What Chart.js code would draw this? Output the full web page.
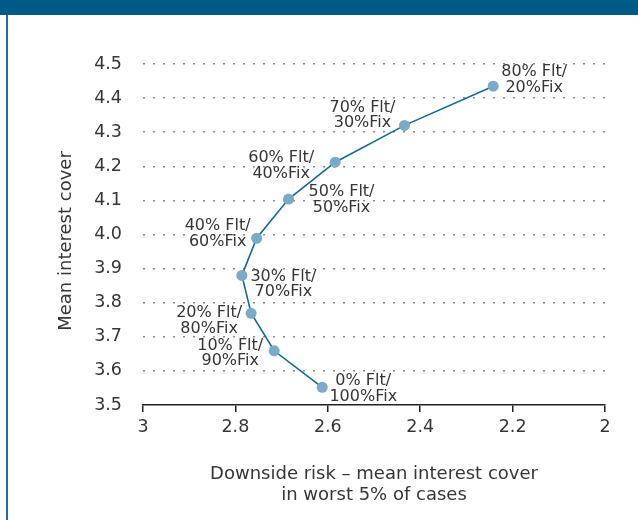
<!DOCTYPE html>
<html>
<head>
<meta charset="utf-8">
<script src="https://cdn.jsdelivr.net/npm/chart.js@4/dist/chart.umd.min.js"></script>
<style>
  html, body { margin: 0; padding: 0; background: #fff; }
  #wrap { position: relative; width: 638px; height: 520px; overflow: hidden; background: #fff; }
  #band { position: absolute; left: 0; top: 0; width: 638px; height: 15px; background: #005a87; }
  #lborder { position: absolute; left: 6px; top: 15px; width: 2px; height: 505px; background: #1f6f9a; }
  canvas { position: absolute; left: 0; top: 0; }
</style>
</head>
<body>
<div id="wrap">
  <canvas id="c" width="638" height="520"></canvas>
  <div id="band"></div>
  <div id="lborder"></div>
</div>
<script>
// ---- data ----
const fltLabels = ['0% Flt/', '10% Flt/', '20% Flt/', '30% Flt/', '40% Flt/', '50% Flt/', '60% Flt/', '70% Flt/', '80% Flt/'];
const fixLabels = ['100%Fix', '90%Fix', '80%Fix', '70%Fix', '60%Fix', '50%Fix', '40%Fix', '30%Fix', '20%Fix'];
const downsideRisk = [2.612, 2.716, 2.766, 2.786, 2.754, 2.685, 2.584, 2.434, 2.242];
const meanCover = [3.552, 3.659, 3.769, 3.880, 3.989, 4.104, 4.212, 4.320, 4.435];
const yTickLabels = ['3.5', '3.6', '3.7', '3.8', '3.9', '4.0', '4.1', '4.2', '4.3', '4.4', '4.5'];
const xTickLabels = ['2', '2.2', '2.4', '2.6', '2.8', '3'];
const yTitle = 'Mean interest cover';
const xTitle = ['Downside risk \u2013 mean interest cover', 'in worst 5% of cases'];

const FONT = '"DejaVu Sans", "Noto Sans", sans-serif';
const TEXT = '#363636';

// label placement relative to each point: [dx, dy of first line]
const labelOffsets = [[41, -6], [-44, -5], [-42, 0], [41.5, 1], [-39, -12], [53, -7], [-54, -4], [-42, -18], [41, -14]];

const labelPlugin = {
  id: 'mixLabels',
  afterDatasetsDraw(chart) {
    const ctx = chart.ctx;
    const meta = chart.getDatasetMeta(0);
    ctx.save();
    ctx.font = '16px ' + FONT;
    ctx.fillStyle = TEXT;
    ctx.textAlign = 'center';
    ctx.textBaseline = 'middle';
    meta.data.forEach((pt, i) => {
      const [dx, dy] = labelOffsets[i];
      ctx.fillText(fltLabels[i], pt.x + dx, pt.y + dy);
      ctx.fillText(fixLabels[i], pt.x + dx, pt.y + dy + 15.5);
    });
    ctx.restore();
  },
  afterDraw(chart) {
    const ctx = chart.ctx;
    const xs = chart.scales.x;
    ctx.save();
    ctx.font = '18px ' + FONT;
    ctx.fillStyle = TEXT;
    ctx.textAlign = 'center';
    ctx.textBaseline = 'middle';
    const cx = (xs.left + xs.right) / 2;
    ctx.fillText(xTitle[0], cx, xs.bottom - 36);
    ctx.fillText(xTitle[1], cx, xs.bottom - 15);
    ctx.translate(66, 241);
    ctx.rotate(-Math.PI / 2);
    ctx.fillText(yTitle, 0, 0);
    ctx.restore();
  }
};

new Chart(document.getElementById('c'), {
  type: 'scatter',
  data: {
    datasets: [{
      data: downsideRisk.map((x, i) => ({ x: x, y: meanCover[i] })),
      showLine: true,
      borderColor: '#16688f',
      borderWidth: 1.6,
      pointRadius: 5.5,
      pointHoverRadius: 5.5,
      pointBackgroundColor: '#7aaac8',
      pointBorderColor: '#7aaac8',
      pointBorderWidth: 0,
      tension: 0
    }]
  },
  options: {
    responsive: false,
    animation: false,
    events: [],
    layout: { padding: { left: 10, right: 33, top: 64, bottom: 10 } },
    plugins: { legend: { display: false }, tooltip: { enabled: false } },
    scales: {
      x: {
        type: 'linear',
        reverse: true,
        min: 2, max: 3,
        afterFit(s) { s.height = 105; },
        afterBuildTicks(s) { s.ticks = xTickLabels.map(v => ({ value: parseFloat(v) })); },
        ticks: {
          color: TEXT,
          font: { family: FONT, size: 17.5 },
          padding: 5,
          maxRotation: 0,
          callback: (v) => xTickLabels.find(t => parseFloat(t) === v) || ''
        },
        grid: { drawOnChartArea: false, drawTicks: true, tickLength: 7, color: '#222', lineWidth: 1.5 },
        border: { display: true, color: '#222', width: 1.5 }
      },
      y: {
        type: 'linear',
        min: 3.5, max: 4.5,
        afterFit(s) { s.width = 133; },
        afterBuildTicks(s) { s.ticks = yTickLabels.map(v => ({ value: parseFloat(v) })); },
        ticks: {
          color: TEXT,
          font: { family: FONT, size: 17.5 },
          padding: 21,
          callback: (v) => yTickLabels.find(t => parseFloat(t) === v) || ''
        },
        grid: {
          drawTicks: false,
          color: (c) => c.tick && c.tick.value === 3.5 ? 'rgba(0,0,0,0)' : '#8a8a8a',
          lineWidth: 1.5
        },
        border: { display: false, dash: [2, 8] }
      }
    }
  },
  plugins: [labelPlugin]
});
</script>
</body>
</html>
